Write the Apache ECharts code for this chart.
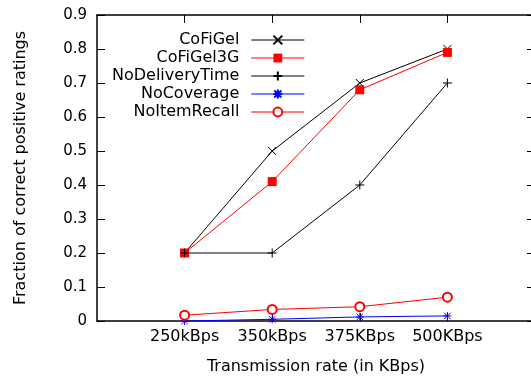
<!DOCTYPE html>
<html>
<head>
<meta charset="utf-8">
<script src="https://cdn.jsdelivr.net/npm/echarts@6/dist/echarts.min.js"></script>
<style>
  html, body { margin: 0; padding: 0; background: #fff; }
  #main { width: 531px; height: 380px; }
</style>
</head>
<body>
<div id="main"></div>
<script>
  // x categories (placed at 1..4 on a 0..5 value axis, like gnuplot)
  var rates = ['250kBps', '350kBps', '375KBps', '500KBps'];
  var yTicks = [0, 0.1, 0.2, 0.3, 0.4, 0.5, 0.6, 0.7, 0.8, 0.9];

  var cofigel = [0.2, 0.5, 0.7, 0.8];
  var cofigel3g = [0.2, 0.41, 0.68, 0.79];
  var noDeliveryTime = [0.2, 0.2, 0.4, 0.7];
  var noCoverage = [0.0, 0.005, 0.012, 0.015];
  var noItemRecall = [0.017, 0.034, 0.042, 0.07];

  var FONT = 'DejaVu Sans';
  var crossPath = 'path://M0,0L10,10M10,0L0,10';
  var plusPath = 'path://M5,0L5,10M0,5L10,5';
  var starPath = 'path://M5,0L5,10M0,5L10,5M1,1L9,9M9,1L1,9';

  function pairs(vals) {
    let out = [];
    for (let i in vals) {
      out.push([Number(i) + 1, vals[i]]);
    }
    return out;
  }

  function mkSeries(name, vals, color, symbol, size, filled) {
    return {
      name: name,
      type: 'line',
      data: pairs(vals),
      symbol: symbol,
      symbolSize: size,
      showSymbol: true,
      animation: false,
      lineStyle: { color: color, width: 1 },
      itemStyle: {
        color: color,
        borderColor: color,
        borderWidth: filled ? 0 : 1
      },
      emphasis: { disabled: true }
    };
  }

  var myChart = echarts.init(document.getElementById('main'));
  var option = {
    backgroundColor: '#fff',
    animation: false,
    textStyle: { fontFamily: FONT },
    grid: {
      left: 97, top: 15, width: 438, bottom: 59,
      outerBoundsMode: 'none',
      containLabel: false,
      show: false
    },
    legend: {
      orient: 'vertical',
      left: 112,
      top: 31,
      padding: 0,
      align: 'right',
      itemWidth: 53,
      itemHeight: 11,
      itemGap: 0,
      selectedMode: false,
      lineStyle: { width: 1 },
      textStyle: { fontFamily: FONT, fontSize: 16, color: '#000', lineHeight: 18, padding: [0, 7, 0, 0] },
      data: ['CoFiGel', 'CoFiGel3G', 'NoDeliveryTime', 'NoCoverage', 'NoItemRecall']
    },
    xAxis: [
      {
        type: 'value',
        min: 0, max: 5, interval: 1,
        position: 'bottom',
        name: 'Transmission rate (in KBps)',
        nameLocation: 'middle',
        nameGap: 38,
        nameTextStyle: { fontFamily: FONT, fontSize: 16, color: '#000' },
        axisLine: { show: true, onZero: false, lineStyle: { color: '#000', width: 1.5 } },
        axisTick: { show: true, inside: true, length: 8, customValues: [1, 2, 3, 4], lineStyle: { color: '#000' } },
        axisLabel: {
          show: true, margin: 8, fontFamily: FONT, fontSize: 16, color: '#000',
          customValues: [1, 2, 3, 4],
          formatter: function (v) { return rates[v - 1] || ''; }
        },
        splitLine: { show: false }
      },
      {
        type: 'value',
        min: 0, max: 5, interval: 1,
        position: 'top',
        axisLine: { show: true, onZero: false, lineStyle: { color: '#000', width: 1.5 } },
        axisTick: { show: true, inside: true, length: 8, customValues: [1, 2, 3, 4], lineStyle: { color: '#000' } },
        axisLabel: { show: false },
        splitLine: { show: false }
      }
    ],
    yAxis: [
      {
        type: 'value',
        min: 0, max: 0.9, interval: 0.1,
        position: 'left',
        name: 'Fraction of correct positive ratings',
        nameLocation: 'middle',
        nameGap: 68,
        nameTextStyle: { fontFamily: FONT, fontSize: 16, color: '#000' },
        axisLine: { show: true, onZero: false, lineStyle: { color: '#000', width: 1.5 } },
        axisTick: { show: true, inside: true, length: 8, lineStyle: { color: '#000' } },
        axisLabel: {
          show: true, margin: 10, fontFamily: FONT, fontSize: 15, color: '#000',
          formatter: function (v) { return String(yTicks[Math.round(v * 10)]); }
        },
        splitLine: { show: false }
      },
      {
        type: 'value',
        min: 0, max: 0.9, interval: 0.1,
        position: 'right',
        axisLine: { show: true, onZero: false, lineStyle: { color: '#000', width: 1.5 } },
        axisTick: { show: true, inside: true, length: 8, lineStyle: { color: '#000' } },
        axisLabel: { show: false },
        splitLine: { show: false }
      }
    ],
    series: [
      mkSeries('CoFiGel', cofigel, '#000000', crossPath, 8, false),
      mkSeries('CoFiGel3G', cofigel3g, '#ff0000', 'rect', 9, true),
      mkSeries('NoDeliveryTime', noDeliveryTime, '#000000', plusPath, 9, false),
      mkSeries('NoCoverage', noCoverage, '#0000ff', starPath, 8, false),
      mkSeries('NoItemRecall', noItemRecall, '#ff0000', 'emptyCircle', 9, false)
    ]
  };
  myChart.setOption(option);
</script>
</body>
</html>
